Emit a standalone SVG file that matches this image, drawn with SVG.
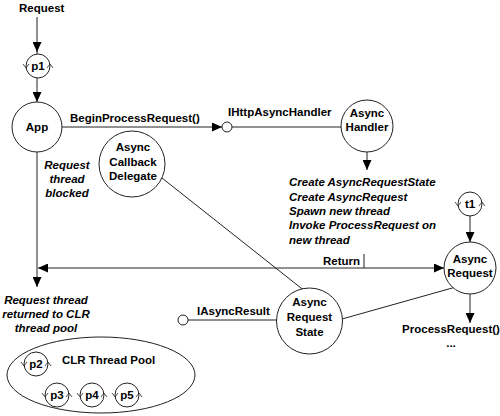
<svg xmlns="http://www.w3.org/2000/svg" xmlns:xlink="http://www.w3.org/1999/xlink" width="500" height="416" viewBox="0 0 500 416">
<style>
.n{fill:#fff;stroke:#222;stroke-width:1}
.t{font-family:"Liberation Sans",Arial,sans-serif;font-size:11.5px;font-weight:bold;fill:#000}
.c{text-anchor:middle}
.i{font-style:italic}
.l{fill:none;stroke:#222;stroke-width:1}
.a{marker-end:url(#ah)}
.tk{fill:none;stroke:#222;stroke-width:0.8}
</style>
<defs>
<marker id="ah" viewBox="0 0 10 9" refX="10" refY="4.5" markerWidth="10" markerHeight="9" markerUnits="userSpaceOnUse" orient="auto-start-reverse">
<path d="M0,0 L10,4.5 L0,9 z" fill="#000"/>
</marker>
<g id="thr">
<circle class="n" r="12"/>
<polyline class="tk" points="-15,-2 -12,2 -9,-2"/>
<polyline class="tk" points="9,2 12,-2 15,2"/>
</g>
</defs>
<g id="connectors">
<line class="l a" x1="37" y1="17" x2="37" y2="52"/>
<line class="l" x1="37" y1="50" x2="37" y2="54"/>
<line class="l a" x1="37" y1="78" x2="37" y2="102"/>
<line class="l a" x1="62" y1="127" x2="222" y2="127"/>
<circle class="n" cx="227" cy="127" r="5"/>
<line class="l" x1="232" y1="127" x2="341" y2="127"/>
<line class="l a" x1="367" y1="152" x2="367" y2="170"/>
<line class="l a" x1="37" y1="152" x2="37" y2="287"/>
<line class="l" x1="38" y1="268" x2="444" y2="268" marker-start="url(#ah)" marker-end="url(#ah)"/>
<line class="l" x1="364" y1="254" x2="364" y2="268"/>
<line class="l a" x1="470" y1="216" x2="470" y2="242"/>
<line class="l a" x1="470" y1="294" x2="470" y2="323"/>
<line class="l" x1="162" y1="178" x2="306" y2="292"/>
<line class="l" x1="342" y1="319" x2="470" y2="283"/>
<circle class="n" cx="183" cy="320" r="5"/>
<line class="l" x1="188" y1="320" x2="277" y2="320"/>
</g>
<g id="labels">
<text class="t" x="19" y="12">Request</text>
<text class="t" x="70" y="122">BeginProcessRequest()</text>
<text class="t" x="228" y="116">IHttpAsyncHandler</text>
<text class="t i c" x="67" y="169">Request</text>
<text class="t i c" x="67" y="183">thread</text>
<text class="t i c" x="67" y="197">blocked</text>
<text class="t i" x="289" y="186">Create AsyncRequestState</text>
<text class="t i" x="289" y="200.5">Create AsyncRequest</text>
<text class="t i" x="289" y="215">Spawn new thread</text>
<text class="t i" x="289" y="229">Invoke ProcessRequest on</text>
<text class="t i" x="289" y="243.5">new thread</text>
<text class="t" x="323" y="265">Return</text>
<text class="t i c" x="46" y="304">Request thread</text>
<text class="t i c" x="46" y="318">returned to CLR</text>
<text class="t i c" x="46" y="332">thread pool</text>
<text class="t" x="197" y="315">IAsyncResult</text>
<text class="t c" x="451" y="333">ProcessRequest()</text>
<text class="t c" x="451" y="347">...</text>
</g>
<g id="p1"><use xlink:href="#thr" x="38" y="66"/><text class="t c" x="38" y="70">p1</text></g>
<g id="app"><circle class="n" cx="37" cy="127" r="25"/><text class="t c" x="37" y="131">App</text></g>
<g id="asyncHandler"><circle class="n" cx="367" cy="126" r="26"/><text class="t c" x="367" y="117">Async</text><text class="t c" x="367" y="131">Handler</text></g>
<g id="asyncCallbackDelegate"><circle class="n" cx="132" cy="164" r="33"/><text class="t c" x="133" y="151">Async</text><text class="t c" x="133" y="166">Callback</text><text class="t c" x="133" y="180">Delegate</text></g>
<g id="t1"><use xlink:href="#thr" x="470" y="204"/><text class="t c" x="470" y="208">t1</text></g>
<g id="asyncRequest"><circle class="n" cx="470" cy="268" r="26"/><text class="t c" x="470" y="263">Async</text><text class="t c" x="470" y="277">Request</text></g>
<g id="asyncRequestState"><circle class="n" cx="309.5" cy="321" r="33"/><text class="t c" x="309.5" y="306">Async</text><text class="t c" x="309.5" y="321">Request</text><text class="t c" x="309.5" y="336">State</text></g>
<g id="clrThreadPool">
<ellipse class="n" cx="101" cy="375" rx="94" ry="38"/>
<text class="t" x="62" y="364">CLR Thread Pool</text>
<use xlink:href="#thr" x="36" y="364"/><text class="t c" x="36" y="368">p2</text>
<use xlink:href="#thr" x="57" y="395"/><text class="t c" x="57" y="399">p3</text>
<use xlink:href="#thr" x="92" y="395"/><text class="t c" x="92" y="399">p4</text>
<use xlink:href="#thr" x="127" y="395"/><text class="t c" x="127" y="399">p5</text>
</g>
</svg>
